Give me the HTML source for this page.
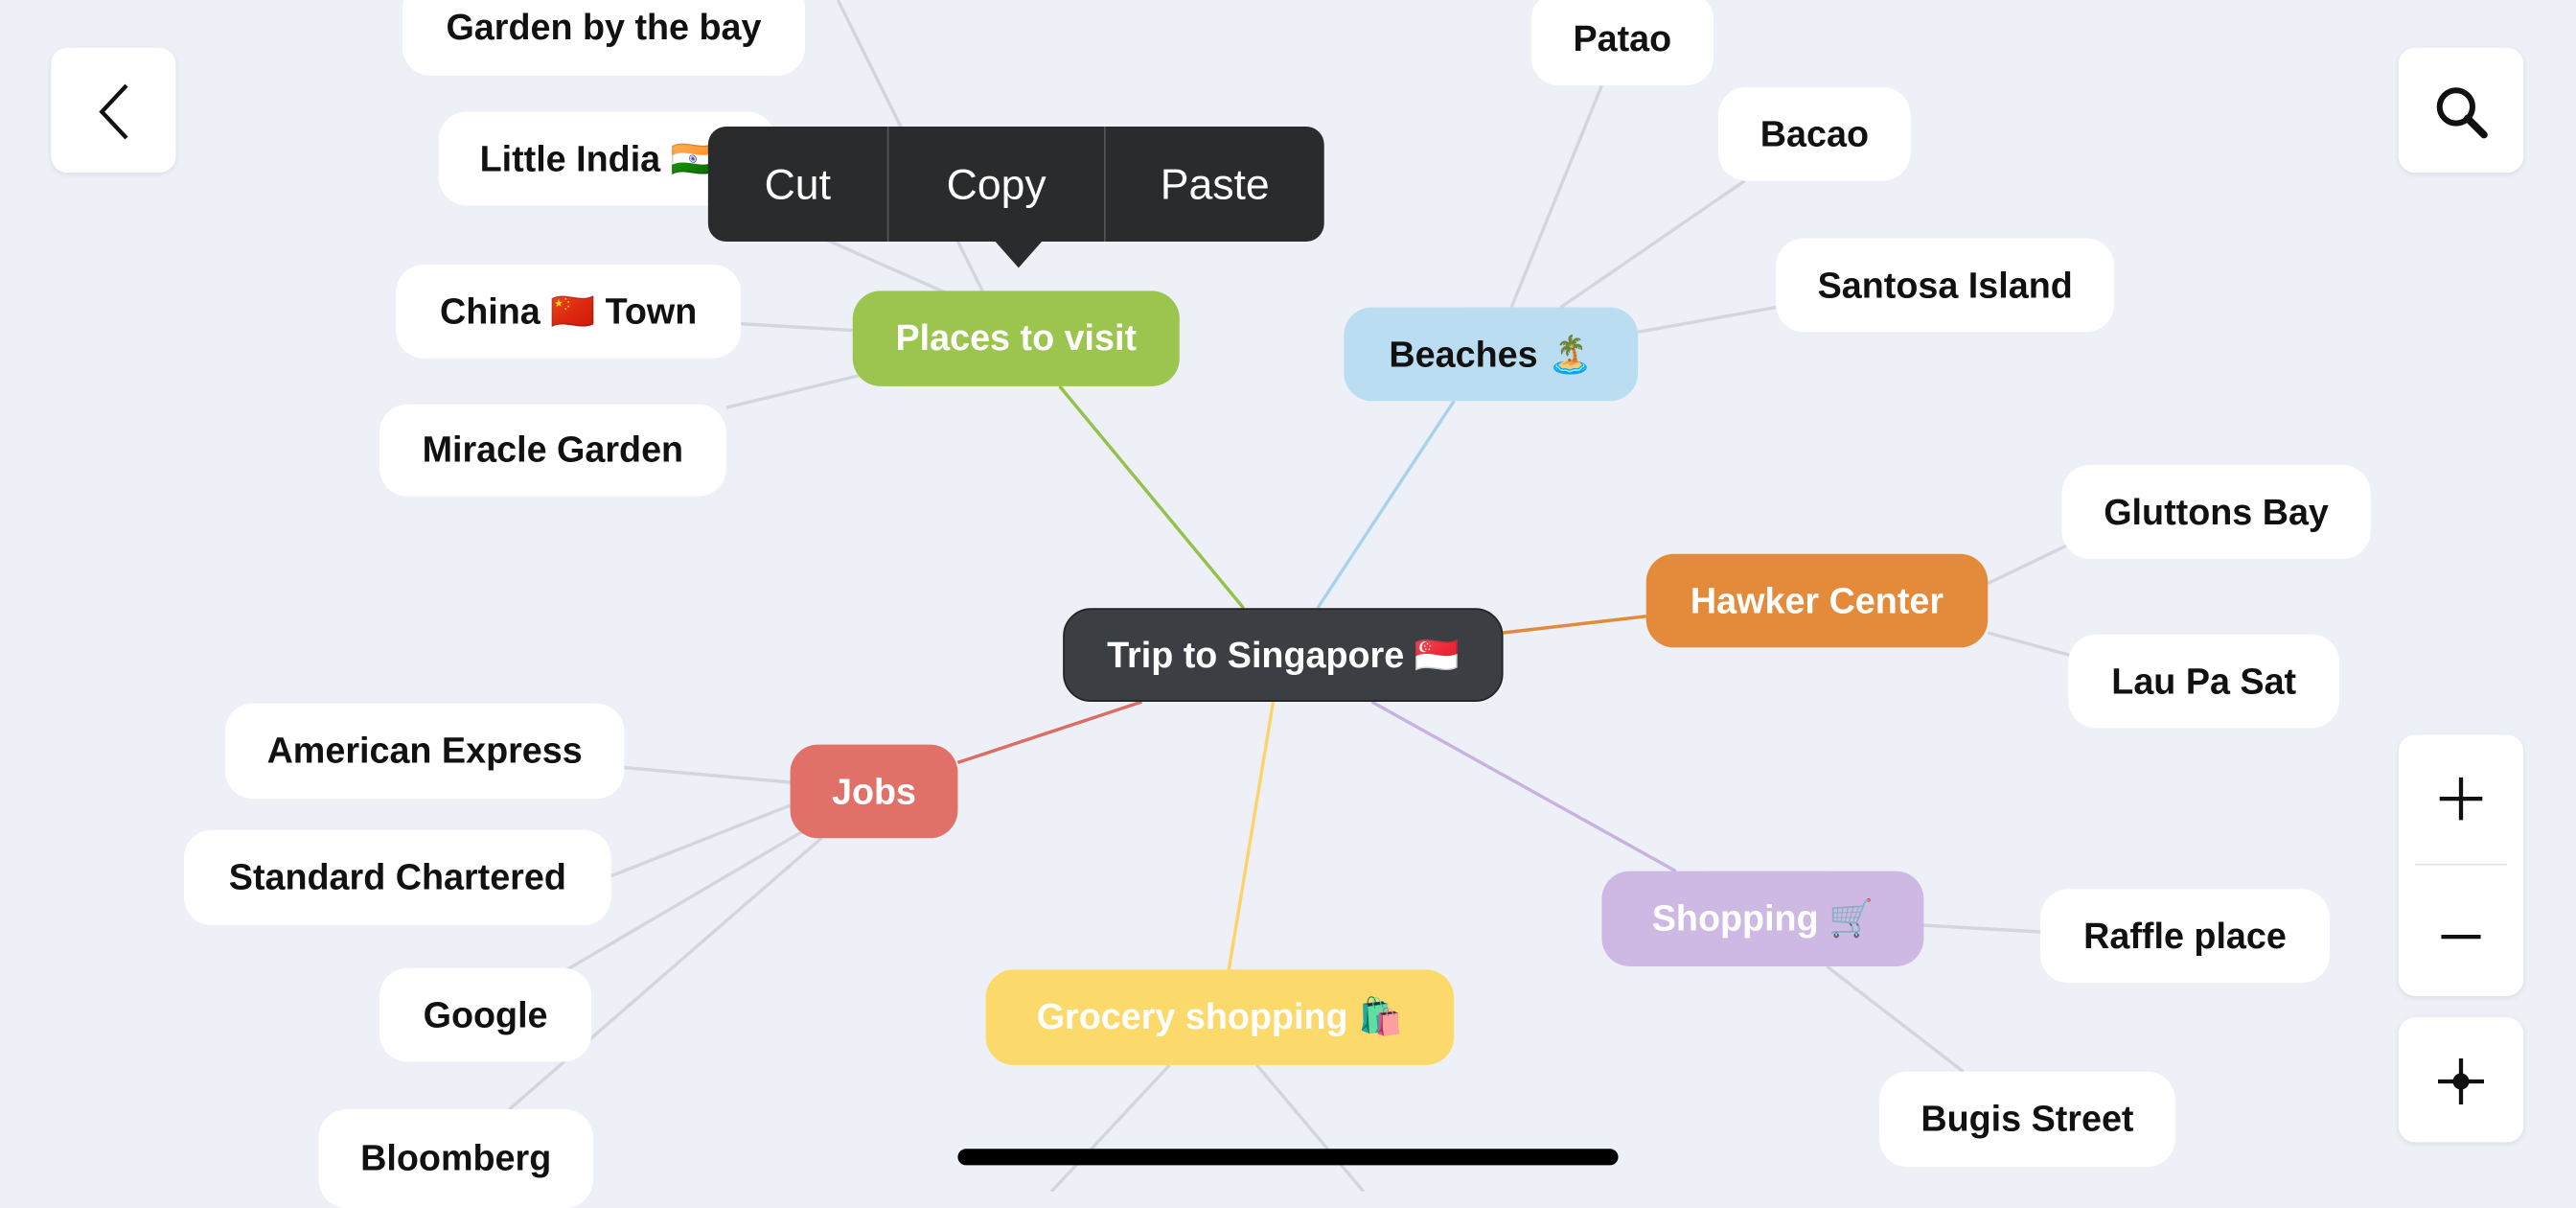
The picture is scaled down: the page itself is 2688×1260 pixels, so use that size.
<!DOCTYPE html>
<html><head><meta charset="utf-8"><style>
html,body{margin:0;padding:0;width:2688px;height:1242px;overflow:hidden;background:#eef0f7;}
#c{position:absolute;left:0;top:0;width:1568px;height:725px;transform:scale(1.714286);transform-origin:0 0;font-family:"Liberation Sans","Noto Sans CJK SC",sans-serif;}
.n{position:absolute;box-sizing:border-box;display:flex;align-items:center;justify-content:center;border-radius:17px;background:#fff;font-size:22px;font-weight:600;color:#111;white-space:nowrap;}
.w{color:#fff;}
.btn{position:absolute;width:76px;height:76px;background:#fff;border-radius:10px;box-shadow:0 1px 3px rgba(0,0,0,.08);}
</style></head><body><div id="c">
<svg width="1568" height="725" style="position:absolute;left:0;top:0" fill="none" stroke-width="2">
<g stroke="#d3d6df">
<line x1="510" y1="0" x2="598" y2="177"/>
<line x1="440" y1="118" x2="580" y2="180"/>
<line x1="451" y1="197" x2="519" y2="201"/>
<line x1="442" y1="248" x2="525" y2="228"/>
<line x1="975" y1="52" x2="920" y2="187"/>
<line x1="1062" y1="110" x2="950" y2="187"/>
<line x1="1081" y1="187" x2="997" y2="202"/>
<line x1="1210" y1="355" x2="1262" y2="330"/>
<line x1="1210" y1="385" x2="1265" y2="400"/>
<line x1="380" y1="467" x2="481" y2="476"/>
<line x1="372" y1="533" x2="481" y2="490"/>
<line x1="345" y1="590" x2="490" y2="505"/>
<line x1="310" y1="675" x2="500" y2="510"/>
<line x1="1171" y1="563" x2="1242" y2="567"/>
<line x1="1112" y1="588" x2="1195" y2="652"/>
<line x1="712" y1="648" x2="640" y2="725"/>
<line x1="765" y1="648" x2="830" y2="725"/>
</g>
<line x1="645" y1="235" x2="757" y2="370" stroke="#95c04a"/>
<line x1="885" y1="244" x2="802" y2="370" stroke="#a9d3ec"/>
<line x1="915" y1="385" x2="1002" y2="375" stroke="#e08a3a"/>
<line x1="695" y1="427" x2="583" y2="464" stroke="#dc6d64"/>
<line x1="775" y1="427" x2="748" y2="590" stroke="#fbd46a"/>
<line x1="835" y1="427" x2="1020" y2="530" stroke="#c8b3e0"/>
</svg>
<div class="n" style="left:245px;top:-12px;width:245px;height:58px">Garden by the bay</div>
<div class="n" style="left:267px;top:68px;width:205px;height:57px;justify-content:flex-start;padding-left:25px">Little India 🇮🇳</div>
<div class="n" style="left:241px;top:161px;width:210px;height:57px">China 🇨🇳 Town</div>
<div class="n" style="left:231px;top:246px;width:211px;height:56px">Miracle Garden</div>
<div class="n w" style="left:519px;top:177px;width:199px;height:58px;background:#9cc54f">Places to visit</div>
<div class="n" style="left:932px;top:-5px;width:111px;height:57px">Patao</div>
<div class="n" style="left:1046px;top:53px;width:117px;height:57px">Bacao</div>
<div class="n" style="left:1081px;top:145px;width:206px;height:57px">Santosa Island</div>
<div class="n" style="left:818px;top:187px;width:179px;height:57px;background:#bbddf1">Beaches 🏝️</div>
<div class="n" style="left:1255px;top:283px;width:188px;height:57px">Gluttons Bay</div>
<div class="n w" style="left:1002px;top:337px;width:208px;height:57px;background:#e48b3b">Hawker Center</div>
<div class="n" style="left:1259px;top:386px;width:165px;height:57px">Lau Pa Sat</div>
<div class="n w" style="left:647px;top:370px;width:268px;height:57px;background:#3b3e42;border:1px solid #222">Trip to Singapore 🇸🇬</div>
<div class="n" style="left:137px;top:428px;width:243px;height:58px">American Express</div>
<div class="n w" style="left:481px;top:453px;width:102px;height:57px;background:#e07068">Jobs</div>
<div class="n" style="left:112px;top:505px;width:260px;height:58px">Standard Chartered</div>
<div class="n" style="left:231px;top:589px;width:129px;height:57px">Google</div>
<div class="n" style="left:194px;top:675px;width:167px;height:60px">Bloomberg</div>
<div class="n w" style="left:975px;top:530px;width:196px;height:58px;background:#cdb9e3">Shopping 🛒</div>
<div class="n" style="left:1242px;top:541px;width:176px;height:57px">Raffle place</div>
<div class="n" style="left:1144px;top:652px;width:180px;height:58px">Bugis Street</div>
<div class="n w" style="left:600px;top:590px;width:285px;height:58px;background:#fcd96b">Grocery shopping 🛍️</div>
<div style="position:absolute;left:431px;top:77px;width:375px;height:70px;background:#2a2b2d;border-radius:11px;display:flex;color:#fff;font-size:26px;">
<div style="width:109px;display:flex;align-items:center;justify-content:center;border-right:1px solid #555">Cut</div>
<div style="width:131px;display:flex;align-items:center;justify-content:center;border-right:1px solid #555">Copy</div>
<div style="flex:1;display:flex;align-items:center;justify-content:center">Paste</div>
</div>
<div style="position:absolute;left:605px;top:146px;width:0;height:0;border-left:15px solid transparent;border-right:15px solid transparent;border-top:17px solid #2a2b2d"></div>
<div class="btn" style="left:31px;top:29px"><svg width="76" height="76"><polyline points="77,52 62,68 77,84" transform="translate(-31,-29)" stroke="#111" stroke-width="2.5" fill="none"/></svg></div>
<div class="btn" style="left:1460px;top:29px"><svg width="76" height="76"><circle cx="35" cy="36" r="10" stroke="#111" stroke-width="3.5" fill="none"/><line x1="42" y1="43" x2="52" y2="53" stroke="#111" stroke-width="4.5" stroke-linecap="round"/></svg></div>
<div class="btn" style="left:1460px;top:447px;height:159px"><svg width="76" height="159"><line x1="25" y1="39" x2="51" y2="39" stroke="#111" stroke-width="2.5"/><line x1="38" y1="26" x2="38" y2="52" stroke="#111" stroke-width="2.5"/><line x1="10" y1="79" x2="66" y2="79" stroke="#e3e4e8" stroke-width="1"/><line x1="26" y1="123" x2="50" y2="123" stroke="#111" stroke-width="2.5"/></svg></div>
<div class="btn" style="left:1460px;top:619px"><svg width="76" height="76"><circle cx="38" cy="39" r="5" fill="#111"/><line x1="24" y1="39" x2="52" y2="39" stroke="#111" stroke-width="2.5"/><line x1="38" y1="25" x2="38" y2="53" stroke="#111" stroke-width="2.5"/></svg></div>
<div style="position:absolute;left:583px;top:699px;width:402px;height:10px;border-radius:5px;background:#000"></div>
</div></body></html>
